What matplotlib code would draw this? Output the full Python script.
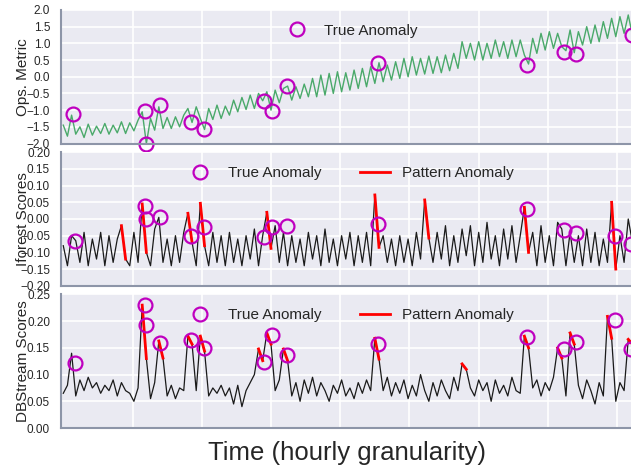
import numpy as np
import matplotlib
matplotlib.use("Agg")
from matplotlib import pyplot as plt

# hourly index, sampled every 6 hours
hours = list(range(0, 829, 6))

# ops metric (green line in the top panel)
ops_metric = [
    -1.45, -1.78, -1.15, -1.72, -1.50, -1.82, -1.42, -1.75, -1.48, -1.70,
    -1.40, -1.72, -1.45, -1.68, -1.35, -1.70, -1.38, -1.62, -1.30, -1.05,
    -2.00, -1.25, -1.60, -0.90, -1.55, -1.22, -1.55, -1.20, -1.50, -1.15,
    -0.95, -1.37, -0.90, -1.25, -1.58, -0.95, -1.28, -0.85, -1.25, -0.88,
    -1.15, -0.70, -1.05, -0.62, -0.98, -0.55, -0.95, -0.50, -0.72, -0.45,
    -1.00, -0.40, -0.78, -0.35, -0.28, -0.70, -0.30, -0.65, -0.22, -0.60,
    -0.05, -0.60, 0.05, -0.55, 0.10, -0.50, 0.15, -0.45, 0.12, -0.40,
    0.20, -0.35, 0.25, -0.30, 0.30, -0.20, 0.42, -0.15, 0.35, -0.10,
    0.45, -0.05, 0.55, 0.00, 0.60, 0.05, 0.55, 0.08, 0.62, 0.10,
    0.60, 0.12, 0.65, 0.18, 0.70, 0.25, 1.05, 0.55, 1.00, 0.50,
    1.05, 0.50, 1.00, 0.55, 1.10, 0.60, 1.05, 0.55, 1.10, 0.60,
    1.10, 0.65, 0.38, 1.15, 0.70, 1.30, 0.80, 1.35, 0.85, 1.30,
    0.90, 0.78, 1.40, 0.72, 1.35, 0.95, 1.50, 1.00, 1.55, 1.05,
    1.65, 1.15, 1.75, 1.20, 1.80, 1.30, 1.85, 1.25, 1.80,
]

# isolation forest scores (middle panel)
iforest = [
    -0.08, -0.14, -0.05, -0.065, -0.13, -0.04, -0.14, -0.06, -0.12, -0.04,
    -0.14, -0.05, -0.13, -0.06, -0.02, -0.12, -0.14, -0.04, -0.13, 0.045,
    -0.10, -0.14, -0.03, 0.005, -0.13, -0.06, -0.14, -0.05, -0.13, -0.04,
    0.017, -0.07, -0.14, 0.047, -0.08, -0.14, -0.04, -0.13, -0.05, -0.14,
    -0.04, -0.13, -0.06, -0.14, -0.05, -0.12, -0.03, -0.14, -0.05, 0.02,
    -0.088, -0.02, -0.13, -0.04, -0.14, -0.05, -0.13, -0.06, -0.14, -0.04,
    -0.12, -0.05, -0.14, -0.03, -0.13, -0.06, -0.14, -0.05, -0.12, -0.04,
    -0.14, -0.05, -0.13, -0.04, -0.14, 0.072, -0.085, -0.05, -0.13, -0.06,
    -0.14, -0.05, -0.13, -0.06, -0.14, -0.04, -0.12, 0.057, -0.057, -0.13,
    -0.04, -0.12, -0.02, -0.14, -0.05, -0.13, -0.03, -0.11, -0.02, -0.14,
    -0.04, -0.13, -0.01, -0.12, -0.05, -0.14, -0.03, -0.12, -0.02, -0.13,
    -0.05, 0.035, -0.10, -0.04, -0.14, -0.02, -0.13, -0.05, -0.14, -0.01,
    -0.03, -0.14, -0.04, -0.13, -0.05, -0.14, -0.03, -0.13, -0.04, -0.14,
    -0.06, -0.13, 0.05, -0.15, -0.05, -0.13, 0.00, -0.07, -0.12,
]

# DBStream scores (bottom panel)
dbstream = [
    0.065, 0.08, 0.14, 0.06, 0.09, 0.07, 0.095, 0.075, 0.085, 0.065,
    0.08, 0.07, 0.09, 0.06, 0.085, 0.07, 0.065, 0.05, 0.075, 0.23,
    0.13, 0.055, 0.085, 0.163, 0.131, 0.06, 0.08, 0.055, 0.075, 0.07,
    0.172, 0.157, 0.07, 0.172, 0.144, 0.06, 0.075, 0.065, 0.08, 0.06,
    0.075, 0.045, 0.08, 0.04, 0.07, 0.085, 0.10, 0.148, 0.126, 0.178,
    0.157, 0.07, 0.09, 0.148, 0.126, 0.06, 0.085, 0.05, 0.09, 0.065,
    0.095, 0.06, 0.085, 0.07, 0.05, 0.08, 0.065, 0.09, 0.06, 0.075,
    0.055, 0.085, 0.065, 0.09, 0.07, 0.168, 0.129, 0.07, 0.095, 0.06,
    0.085, 0.065, 0.09, 0.055, 0.08, 0.06, 0.10, 0.07, 0.05, 0.085,
    0.06, 0.09, 0.07, 0.055, 0.095, 0.07, 0.12, 0.11, 0.075, 0.06,
    0.09, 0.07, 0.085, 0.05, 0.09, 0.065, 0.08, 0.06, 0.095, 0.07,
    0.065, 0.172, 0.15, 0.075, 0.09, 0.06, 0.085, 0.07, 0.095, 0.15,
    0.131, 0.06, 0.178, 0.157, 0.08, 0.055, 0.09, 0.07, 0.045, 0.085,
    0.06, 0.209, 0.168, 0.05, 0.085, 0.07, 0.166, 0.157, 0.11,
]

# true anomalies (hour, value) for each panel
ops_anom_hours = [14, 118, 120, 140, 185, 203, 290, 302, 323, 455, 670, 723, 740, 821]
ops_anom_vals = [-1.13, -1.02, -2.0, -0.84, -1.37, -1.58, -0.72, -1.02, -0.29, 0.42, 0.36, 0.75, 0.69, 1.25]
score_anom_hours = [17, 118, 120, 140, 184, 203, 290, 302, 323, 455, 670, 723, 740, 797, 820]
iforest_anom_vals = [-0.067, 0.039, 0.0, 0.006, -0.052, -0.025, -0.055, -0.025, -0.02,
                     -0.016, 0.03, -0.034, -0.043, -0.052, -0.076]
dbstream_anom_vals = [0.122, 0.23, 0.193, 0.159, 0.165, 0.15, 0.124, 0.174, 0.137,
                      0.157, 0.17, 0.148, 0.161, 0.202, 0.148]

# pattern anomaly windows (start hour, end hour)
iforest_windows = [(84, 90), (114, 120), (180, 186), (198, 204), (294, 300),
                   (450, 456), (522, 528), (666, 672), (792, 798)]
dbstream_windows = [(114, 120), (138, 144), (180, 186), (198, 204), (282, 288),
                    (294, 300), (318, 324), (450, 456), (576, 582), (666, 672),
                    (714, 720), (732, 738), (786, 792), (816, 822)]

plt.rcParams['font.family'] = ['Liberation Sans', 'DejaVu Sans']
plt.rcParams['text.color'] = '#262626'
plt.rcParams['axes.labelcolor'] = '#262626'

hours = np.array(hours)
fig, axes = plt.subplots(3, 1, sharex=True, figsize=(6.31, 4.74), dpi=100)
fig.subplots_adjust(left=0.097, right=1.011, top=0.979, bottom=0.097, hspace=0.065)

for ax in axes:
    ax.set_facecolor('#EAEAF2')
    ax.grid(True, color='white', linewidth=1.2)
    ax.set_axisbelow(True)
    for side in ['top', 'right']:
        ax.spines[side].set_visible(False)
    for side in ['left', 'bottom']:
        ax.spines[side].set_color('#8d95a8')
        ax.spines[side].set_linewidth(1.5)
    ax.tick_params(length=0, pad=8, labelsize=8.5, colors='#262626')
    ax.set_xticks([100, 200, 300, 400, 500, 600, 700, 800])
    ax.set_xticklabels([])
    ax.set_xlim(-3, 830)

circle = dict(linestyle='none', marker='o', markersize=10, markerfacecolor='none',
              markeredgecolor='m', markeredgewidth=1.6)

# top: ops metric
ax = axes[0]
ax.plot(hours, ops_metric, color='#4aa96a', linewidth=1.0)
ax.plot(ops_anom_hours, ops_anom_vals, label='True Anomaly', clip_on=False, **circle)
ax.set_ylim(-2.0, 2.0)
ax.set_yticks(np.arange(-2.0, 2.01, 0.5))
ax.set_ylabel('Ops. Metric', fontsize=11)
ax.legend(loc='upper center', frameon=False, fontsize=11, numpoints=1)


def score_panel(ax, values, anom_vals, windows, label):
    values = np.array(values)
    ax.plot(hours, values, color='#1a1a1a', linewidth=0.9)
    for k, (s, e) in enumerate(windows):
        m = (hours >= s) & (hours <= e)
        ax.plot(hours[m], values[m], color='red', linewidth=2,
                label='Pattern Anomaly' if k == 0 else None)
    ax.plot(score_anom_hours, anom_vals, label='True Anomaly', **circle)
    h, l = ax.get_legend_handles_labels()
    ax.legend(h[::-1], l[::-1], loc='upper center', ncol=2, frameon=False,
              fontsize=11, numpoints=1, columnspacing=2.5)
    ax.set_ylabel(label, fontsize=11)


score_panel(axes[1], iforest, iforest_anom_vals, iforest_windows, 'Iforest Scores')
axes[1].set_ylim(-0.20, 0.20)
axes[1].set_yticks(np.arange(-0.20, 0.201, 0.05))

score_panel(axes[2], dbstream, dbstream_anom_vals, dbstream_windows, 'DBStream Scores')
axes[2].set_ylim(0.0, 0.25)
axes[2].set_yticks(np.arange(0.0, 0.251, 0.05))

for ax in axes:
    ax.yaxis.set_label_coords(-0.054, 0.5)

axes[2].set_xlabel('Time (hourly granularity)', fontsize=18.5)
axes[2].xaxis.set_label_coords(0.495, -0.095)

fig.savefig('out.png', dpi=100)
